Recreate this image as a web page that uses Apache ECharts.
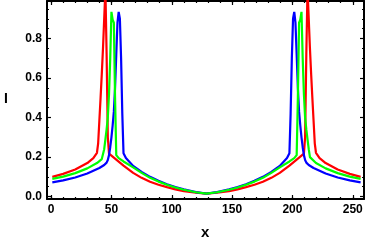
<!DOCTYPE html>
<html><head><meta charset="utf-8">
<script src="https://cdn.jsdelivr.net/npm/echarts@6/dist/echarts.min.js"></script>
<style>html,body{margin:0;padding:0;background:#fff}#c{width:369px;height:243px}</style>
</head><body><div id="c"></div>
<script>
// ---- data ----
var redX = [1,10,20,30,35,38,39,40,41,42,43,44,45,46,47,48,55,60,68,75,82,89,96,103,110,120,128.75,
  137.5,147.5,154.5,161.5,168.5,175.5,182.5,189.5,197.5,202.5,209.5,210.5,211.5,212.5,213.5,214.5,215.5,216.5,217.5,218.5,219.5,222.5,227.5,237.5,247.5,256.5];
var redY = [0.100,0.115,0.137,0.170,0.195,0.222,0.270,0.385,0.500,0.620,0.750,0.900,1.050,0.720,0.300,0.218,0.182,0.157,0.120,0.095,0.075,0.060,0.048,0.037,0.028,0.020,0.015,
  0.020,0.028,0.037,0.048,0.060,0.075,0.095,0.120,0.157,0.182,0.218,0.300,0.720,1.050,0.900,0.750,0.620,0.500,0.385,0.270,0.222,0.195,0.170,0.137,0.115,0.100];

var greenX = [1,10,20,30,38,42,43,44,45,46,47,48,49,50,51,52,53,54,56,60,68,75,82,89,96,103,110,120,128.75,
  137.5,147.5,154.5,161.5,168.5,175.5,182.5,189.5,197.5,201.5,203.5,204.5,205.5,206.5,207.5,208.5,209.5,210.5,211.5,212.5,213.5,214.5,215.5,219.5,227.5,237.5,247.5,256.5];
var greenY = [0.090,0.101,0.119,0.143,0.170,0.190,0.200,0.240,0.290,0.340,0.400,0.520,0.700,0.935,0.895,0.880,0.500,0.210,0.195,0.178,0.148,0.120,0.095,0.076,0.060,0.046,0.035,0.022,0.015,
  0.022,0.035,0.046,0.060,0.076,0.095,0.120,0.148,0.178,0.195,0.210,0.500,0.880,0.895,0.935,0.700,0.520,0.400,0.340,0.290,0.240,0.200,0.190,0.170,0.143,0.119,0.101,0.090];

var blueX = [1,10,20,30,40,44,46,47,48,49,50,51,52,53,54,55,56,57,58,59,60,62,68,75,82,89,96,103,110,120,128.75,
  137.5,147.5,154.5,161.5,168.5,175.5,182.5,189.5,195.5,197.5,198.5,199.5,200.5,201.5,202.5,203.5,204.5,205.5,206.5,207.5,208.5,209.5,210.5,211.5,213.5,217.5,227.5,237.5,247.5,256.5];
var blueY = [0.072,0.082,0.097,0.117,0.145,0.160,0.172,0.185,0.210,0.250,0.300,0.360,0.430,0.550,0.720,0.880,0.935,0.900,0.700,0.420,0.220,0.195,0.155,0.125,0.100,0.080,0.063,0.048,0.037,0.023,0.015,
  0.023,0.037,0.048,0.063,0.080,0.100,0.125,0.155,0.195,0.220,0.420,0.700,0.900,0.935,0.880,0.720,0.550,0.430,0.360,0.300,0.250,0.210,0.185,0.172,0.160,0.145,0.117,0.097,0.082,0.072];

var xMajor = [0,50,100,150,200,250];
var xMinor = [0,10,20,30,40,50,60,70,80,90,100,110,120,130,140,150,160,170,180,190,200,210,220,230,240,250];
var yMajor = [0,0.2,0.4,0.6,0.8];
var yMinor = [0,0.05,0.1,0.15,0.2,0.25,0.3,0.35,0.4,0.45,0.5,0.55,0.6,0.65,0.7,0.75,0.8,0.85,0.9,0.95];
var xName = 'x', yName = 'I';

function pairs(xs, ys){ return xs.map(function(v,i){return [v, ys[i]];}); }

var XMIN=-3.4, XMAX=259.3, YMIN=-0.012, YMAX=0.99;
var FONT='"Liberation Sans", Arial, sans-serif';
function xAx(pos, vals, len, showLine, showLabel){
  return {type:'value', position:pos, min:XMIN, max:XMAX,
    axisLine:{show:showLine, onZero:false, lineStyle:{color:'#000', width:2}},
    axisTick:{show:true, inside:true, length:len, customValues:vals, lineStyle:{color:'#000', width:1.2}},
    axisLabel:{show:showLabel, customValues:vals, margin:5, color:'#000', fontFamily:FONT, fontWeight:'bold', fontSize:12},
    splitLine:{show:false}};
}
function yAx(pos, vals, len, showLine, showLabel){
  return {type:'value', position:pos, min:YMIN, max:YMAX,
    axisLine:{show:showLine, onZero:false, lineStyle:{color:'#000', width:2}},
    axisTick:{show:true, inside:true, length:len, customValues:vals, lineStyle:{color:'#000', width:1.2}},
    axisLabel:{show:showLabel, customValues:vals, margin:5, color:'#000', fontFamily:FONT, fontWeight:'bold', fontSize:12,
      formatter:function(v){return v.toFixed(1);}},
    splitLine:{show:false}};
}

var chart = echarts.init(document.getElementById('c'), null, {renderer:'canvas'});
chart.setOption({
  animation:false,
  backgroundColor:'#fff',
  grid:{left:47, right:5, top:1, bottom:44, containLabel:false},
  xAxis:[xAx('bottom', xMajor, 4, true, true), xAx('bottom', xMinor, 2, false, false),
         xAx('top', xMajor, 4, true, false), xAx('top', xMinor, 2, false, false)],
  yAxis:[yAx('left', yMajor, 4, true, true), yAx('left', yMinor, 2, false, false),
         yAx('right', yMajor, 4, true, false), yAx('right', yMinor, 2, false, false)],
  graphic:[
    {type:'text', left:201, top:225, style:{text:xName, font:'bold 15px "Liberation Sans", Arial, sans-serif', fill:'#000'}},
    {type:'text', left:4, top:92, style:{text:yName, font:'bold 14px "Liberation Sans", Arial, sans-serif', fill:'#000'}}
  ],
  series:[
    {type:'line', name:'red', data:pairs(redX, redY), showSymbol:false, symbol:'none', lineStyle:{color:'#ff0000', width:2.2}, itemStyle:{color:'#ff0000'}, xAxisIndex:0, yAxisIndex:0, clip:true},
    {type:'line', name:'blue', data:pairs(blueX, blueY), showSymbol:false, symbol:'none', lineStyle:{color:'#0000ff', width:2.2}, itemStyle:{color:'#0000ff'}, xAxisIndex:0, yAxisIndex:0, clip:true},
    {type:'line', name:'green', data:pairs(greenX, greenY), showSymbol:false, symbol:'none', lineStyle:{color:'#00ff00', width:2.2}, itemStyle:{color:'#00ff00'}, xAxisIndex:0, yAxisIndex:0, clip:true}
  ]
});
</script></body></html>
